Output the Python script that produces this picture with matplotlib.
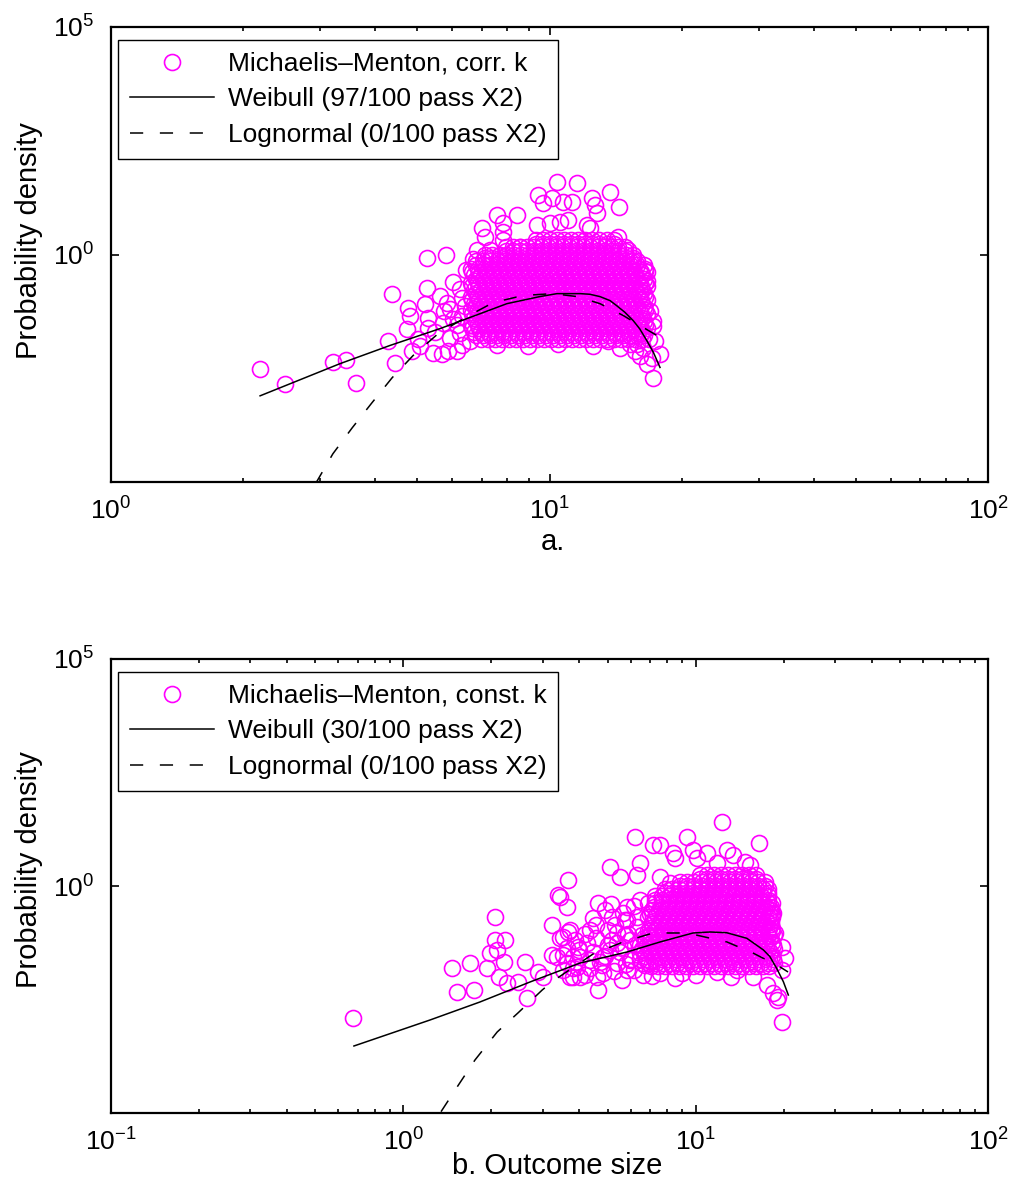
import numpy as np
import matplotlib
matplotlib.use('Agg')
import matplotlib.pyplot as plt
from matplotlib.ticker import FixedLocator, NullLocator, FixedFormatter

plt.rcParams['font.family'] = ['Liberation Sans', 'DejaVu Sans']
plt.rcParams['mathtext.fontset'] = 'custom'
plt.rcParams['mathtext.rm'] = 'Liberation Sans'
plt.rcParams['mathtext.it'] = 'Liberation Sans:italic'
plt.rcParams['mathtext.default'] = 'regular'
plt.rcParams['lines.scale_dashes'] = False

# ---------------- DATA (log10 of values) ----------------
labels_a = ['Michaelis\u2013Menton, corr. k', 'Weibull (97/100 pass X2)', 'Lognormal (0/100 pass X2)']
labels_b = ['Michaelis\u2013Menton, const. k', 'Weibull (30/100 pass X2)', 'Lognormal (0/100 pass X2)']

# panel a: scattered (outlying) points
a_out_lx = [0.340, 0.397, 0.506, 0.536, 0.559, 0.641, 0.632, 0.677, 0.682, 0.675,
            0.648, 0.686, 0.705, 0.721, 0.716, 0.723, 0.723, 0.750, 0.757, 0.734,
            0.755, 0.769, 0.789, 0.773, 0.796, 0.800, 0.796, 0.721, 0.764, 0.846,
            0.853, 0.880, 0.926, 0.894, 0.894, 0.894, 0.826, 0.835, 0.864, 0.899,
            0.933, 0.974, 0.985, 1.006, 1.017, 1.063, 1.031, 1.051, 1.097, 1.104,
            1.108, 1.138, 1.158, 0.971, 1.001, 1.024, 1.042, 1.086, 1.092, 1.156,
            1.179, 1.190, 1.218, 1.222, 1.229, 1.236, 1.236, 1.252, 1.222, 1.236,
            1.213, 1.200, 1.184, 1.133, 0.819, 1.206, 1.241, 1.234, 1.206, 1.195,
            0.766, 0.780, 0.773, 0.807,
            0.790, 0.800, 0.780, 0.810, 0.760, 0.740, 0.700, 0.800,
            0.880, 0.950, 1.020, 1.100, 1.160]
a_out_ly = [-2.511, -2.841, -2.357, -2.313, -2.819, -0.859, -1.894, -1.167, -1.344, -1.630,
            -2.379, -2.115, -2.004, -0.727, -1.079, -1.388, -1.608, -0.903, -1.498, -2.159,
            -2.181, -2.115, -2.115, -1.189, -0.749, -1.344, -1.718, -0.066, 0.000, 0.573,
            0.374, 0.859, 0.859, 0.683, 0.485, 0.308, -0.088, 0.088, 0.088, -0.022,
            0.154, 1.300, 1.123, 1.233, 1.586, 1.564, 1.145, 1.145, 1.233, 1.079,
            0.903, 1.366, 1.035, 0.639, 0.683, 0.705, 0.749, 0.639, 0.573, 0.374,
            0.088, -0.132, -0.352, -0.573, -1.233, -1.454, -1.564, -2.181, -2.401, -2.709,
            -2.048, -1.960, -1.960, -1.894, -1.894, -0.793, -1.894, -2.269, -2.225, -2.115,
            -1.057, -1.410, -1.828, -1.123,
            -1.550, -0.950, -0.600, -0.350, -1.250, -1.700, -1.850, -1.980,
            -1.980, -2.000, -1.970, -2.000, -2.050]

# panel a: dense core, one list of x per row
a_row1 = [0.970, 0.986, 1.002, 1.018, 1.034, 1.050, 1.066, 1.082, 1.098, 1.114, 1.130, 1.146]
a_row2 = [0.900, 0.916, 0.932, 0.948, 0.964, 0.980, 0.996, 1.012, 1.028, 1.044, 1.060, 1.076,
          1.092, 1.108, 1.124, 1.140, 1.156, 1.172]
a_row3 = [0.854, 0.870, 0.886, 0.902, 0.918, 0.934, 0.950, 0.966, 0.982, 0.998, 1.014, 1.030,
          1.046, 1.062, 1.078, 1.094, 1.110, 1.126, 1.142, 1.158, 1.174, 1.190]
a_row4 = [0.832, 0.848, 0.864, 0.880, 0.896, 0.912, 0.928, 0.944, 0.960, 0.976, 0.992, 1.008,
          1.024, 1.040, 1.056, 1.072, 1.088, 1.104, 1.120, 1.136, 1.152, 1.168, 1.184, 1.200]
a_rowA = [0.820, 0.836, 0.852, 0.868, 0.884, 0.900, 0.916, 0.932, 0.948, 0.964, 0.980, 0.996,
          1.012, 1.028, 1.044, 1.060, 1.076, 1.092, 1.108, 1.124, 1.140, 1.156, 1.172, 1.188,
          1.204, 1.218]
a_rowB = [0.828, 0.844, 0.860, 0.876, 0.892, 0.908, 0.924, 0.940, 0.956, 0.972, 0.988, 1.004,
          1.020, 1.036, 1.052, 1.068, 1.084, 1.100, 1.116, 1.132, 1.148, 1.164, 1.180, 1.196,
          1.212]
a_rowC = [0.824, 0.840, 0.856, 0.872, 0.888, 0.904, 0.920, 0.936, 0.952, 0.968, 0.984, 1.000,
          1.016, 1.032, 1.048, 1.064, 1.080, 1.096, 1.112, 1.128, 1.144, 1.160, 1.176, 1.192,
          1.208, 1.222]
a_rowD = [0.832, 0.848, 0.864, 0.880, 0.896, 0.912, 0.928, 0.944, 0.960, 0.976, 0.992, 1.008,
          1.024, 1.040, 1.056, 1.072, 1.088, 1.104, 1.120, 1.136, 1.152, 1.168, 1.184, 1.200,
          1.216]
a_rowZ = [0.844, 0.860, 0.876, 0.892, 0.908, 0.924, 0.940, 0.956, 0.972, 0.988, 1.004, 1.020,
          1.036, 1.052, 1.068, 1.084, 1.100, 1.116, 1.132, 1.148, 1.164, 1.180, 1.196, 1.212,
          1.228]
a_core_rows = [a_row1, a_row1, a_row2, a_row2, a_row3, a_row3, a_row4, a_rowD,
               a_rowA, a_rowC, a_rowB, a_rowD, a_rowA, a_rowC, a_rowB, a_rowD,
               a_rowA, a_rowC, a_rowB, a_rowD, a_rowA, a_rowC, a_rowB, a_rowD,
               a_rowA, a_rowC, a_rowB, a_rowD, a_rowZ]
a_core_ly = [0.31, 0.235, 0.16, 0.08, 0.00, -0.075, -0.15, -0.23,
             -0.31, -0.385, -0.46, -0.54, -0.62, -0.695, -0.77, -0.85,
             -0.93, -1.005, -1.08, -1.155, -1.23, -1.31, -1.39, -1.465,
             -1.54, -1.62, -1.70, -1.775, -1.85]

# panel a: fitted curves
a_weib_lx = [0.340, 0.397, 0.522, 0.636, 0.750, 0.842, 0.903, 0.978, 1.017, 1.070,
             1.092, 1.115, 1.138, 1.153, 1.172, 1.191, 1.206, 1.222, 1.237, 1.252]
a_weib_ly = [-3.106, -2.885, -2.400, -2.000, -1.630, -1.300, -1.080, -0.925, -0.860, -0.860,
             -0.874, -0.925, -1.013, -1.123, -1.271, -1.454, -1.637, -1.894, -2.152, -2.482]
a_logn_lx = [0.432, 0.4675, 0.506, 0.550, 0.595, 0.641, 0.689, 0.746, 0.807, 0.871, 0.940,
             1.008, 1.063, 1.115, 1.168, 1.206, 1.245]
a_logn_ly = [-5.60, -5.02, -4.38, -3.81, -3.26, -2.71, -2.22, -1.74, -1.39, -1.06, -0.90,
             -0.86, -0.925, -1.08, -1.34, -1.56, -1.78]

# panel b: scattered (outlying) points
b_out_lx = [1.090, 1.217, 0.793, 0.854, 0.878, 0.970, 0.922, 0.929, 0.991, 1.005,
            1.039, 1.073, 1.107, 1.128, 1.169, 1.186, 0.707, 0.741, 0.810, 0.800,
            0.878, 0.912, 0.563, 0.560, 0.666, 0.649, 0.714, 0.765, 0.810, 0.570,
            0.700, 0.758, 1.265, 1.272, 1.296, 1.306, 1.296, 1.265, 1.282, 1.278,
            1.296, 0.666, 0.748, 0.820, 0.878, 0.953, 1.073, 1.141, 1.196, 1.244,
            -0.172, 0.167, 0.184, 0.229, 0.243, 0.312, 0.312, 0.348, 0.295, 0.319,
            0.346, 0.286, 0.327, 0.355, 0.392, 0.416, 0.423, 0.461, 0.478, 0.509,
            0.529, 0.563, 0.536, 0.509, 0.526, 0.546, 0.580, 0.546, 0.580, 0.598,
            0.536, 0.546, 0.587, 0.628, 0.560, 0.649, 0.604, 0.560, 0.594, 0.639,
            0.683, 0.707, 0.751, 0.775, 0.731, 0.775, 0.810, 0.683, 0.765, 0.663,
            0.604, 0.570, 0.731, 0.800, 0.800, 0.765,
            0.690, 0.724, 0.758, 0.793, 0.827, 0.714, 0.673, 0.639,
            0.620, 0.660, 0.700, 0.740, 0.780, 0.600, 0.640, 0.680, 0.720, 0.760,
            0.790, 0.580, 0.620, 0.690, 0.730, 0.770, 0.750, 0.790, 0.710, 0.660,
            0.850, 0.930, 1.000, 1.120]
b_out_ly = [1.413, 0.949, 1.082, 0.905, 0.905, 1.082, 0.728, 0.618, 0.795, 0.618,
            0.728, 0.508, 0.795, 0.684, 0.530, 0.464, 0.419, 0.199, 0.508, 0.243,
            0.199, 0.066, 0.132, -0.464, -0.375, -0.706, -0.684, -0.464, -0.309, -0.971,
            -0.971, -0.751, -0.596, -1.038, -1.347, -1.589, -1.854, -2.362, -2.450, -2.517,
            -3.002, -2.296, -2.075, -1.965, -1.921, -1.921, -1.898, -1.854, -2.009, -2.185,
            -2.914, -1.810, -2.340, -1.700, -2.296, -0.684, -1.192, -1.192, -1.479, -1.413,
            -1.678, -1.810, -2.009, -2.141, -2.119, -1.678, -2.472, -1.898, -2.009, -0.861,
            -0.199, -1.015, -1.148, -1.523, -1.567, -1.523, -1.567, -1.854, -2.009, -1.347,
            -0.243, -1.126, -1.192, -1.258, -1.369, -1.457, -1.567, -1.700, -1.788, -1.810,
            -1.567, -1.413, -1.347, -1.192, -1.700, -1.634, -1.479, -1.921, -1.854, -2.009,
            -2.009, -2.009, -1.038, -0.905, -0.684, -0.751,
            -0.530, -0.861, -1.082, -1.302, -1.744, -1.192, -1.678, -0.971,
            -1.050, -1.150, -1.300, -1.450, -1.600, -1.400, -1.620, -1.750, -1.880, -1.720,
            -1.850, -1.800, -1.950, -1.550, -1.250, -1.050, -0.600, -0.450, -0.400, -0.850,
            -1.980, -2.020, -1.970, -2.000]

# panel b: dense core
b_row1 = [1.016, 1.040, 1.064, 1.088, 1.112, 1.136, 1.160, 1.184, 1.208]
b_row2 = [0.948, 0.972, 0.996, 1.020, 1.044, 1.068, 1.092, 1.116, 1.140, 1.164, 1.188, 1.212, 1.236]
b_row3 = [0.896, 0.920, 0.944, 0.968, 0.992, 1.016, 1.040, 1.064, 1.088, 1.112, 1.136, 1.160,
          1.184, 1.208, 1.232, 1.246]
b_row4 = [0.862, 0.886, 0.910, 0.934, 0.958, 0.982, 1.006, 1.030, 1.054, 1.078, 1.102, 1.126,
          1.150, 1.174, 1.198, 1.222, 1.248]
b_rowC = [0.838, 0.862, 0.886, 0.910, 0.934, 0.958, 0.982, 1.006, 1.030, 1.054, 1.078, 1.102,
          1.126, 1.150, 1.174, 1.198, 1.222, 1.246, 1.260]
b_rowD = [0.850, 0.874, 0.898, 0.922, 0.946, 0.970, 0.994, 1.018, 1.042, 1.066, 1.090, 1.114,
          1.138, 1.162, 1.186, 1.210, 1.234, 1.256]
b_rowE = [0.810, 0.834, 0.858, 0.882, 0.906, 0.930, 0.954, 0.978, 1.002, 1.026, 1.050, 1.074,
          1.098, 1.122, 1.146, 1.170, 1.194, 1.218, 1.242, 1.266]
b_rowF = [0.822, 0.846, 0.870, 0.894, 0.918, 0.942, 0.966, 0.990, 1.014, 1.038, 1.062, 1.086,
          1.110, 1.134, 1.158, 1.182, 1.206, 1.230, 1.254]
b_rowC2 = [0.844, 0.868, 0.892, 0.916, 0.940, 0.964, 0.988, 1.012, 1.036, 1.060, 1.084, 1.108,
           1.132, 1.156, 1.180, 1.204, 1.228, 1.252, 1.262]
b_rowD2 = [0.856, 0.880, 0.904, 0.928, 0.952, 0.976, 1.000, 1.024, 1.048, 1.072, 1.096, 1.120,
           1.144, 1.168, 1.192, 1.216, 1.240, 1.258]
b_rowE2 = [0.816, 0.840, 0.864, 0.888, 0.912, 0.936, 0.960, 0.984, 1.008, 1.032, 1.056, 1.080,
           1.104, 1.128, 1.152, 1.176, 1.200, 1.224, 1.248, 1.268]
b_rowF2 = [0.828, 0.852, 0.876, 0.900, 0.924, 0.948, 0.972, 0.996, 1.020, 1.044, 1.068, 1.092,
           1.116, 1.140, 1.164, 1.188, 1.212, 1.236, 1.260]
b_rowZ = [0.846, 0.870, 0.894, 0.918, 0.942, 0.966, 0.990, 1.014, 1.038, 1.062, 1.086, 1.110,
          1.134, 1.158, 1.182, 1.206, 1.230, 1.252]
b_core_rows = [b_row1, b_row1, b_row2, b_row2, b_row3, b_row3, b_row4, b_row4,
               b_rowC, b_rowD2, b_rowD, b_rowC2, b_rowC, b_rowD2, b_rowD, b_rowC2,
               b_rowC, b_rowE2, b_rowF, b_rowF2, b_rowE, b_rowE2, b_rowF, b_rowF2,
               b_rowE, b_rowE2, b_rowZ]
b_core_ly = [0.24, 0.165, 0.09, 0.01, -0.07, -0.145, -0.22, -0.30,
             -0.38, -0.455, -0.53, -0.61, -0.68, -0.76, -0.84, -0.915,
             -0.99, -1.07, -1.15, -1.225, -1.30, -1.38, -1.46, -1.535,
             -1.61, -1.69, -1.77]

# panel b: fitted curves
b_weib_lx = [-0.169, 0.091, 0.262, 0.433, 0.605, 0.765, 0.878, 0.991, 1.049, 1.106,
             1.175, 1.232, 1.254, 1.277, 1.300, 1.317]
b_weib_ly = [-3.524, -2.952, -2.555, -2.115, -1.696, -1.454, -1.233, -1.035, -1.013, -1.029,
             -1.152, -1.410, -1.557, -1.813, -2.108, -2.401]
b_logn_lx = [0.100, 0.126, 0.184, 0.245, 0.321, 0.392, 0.475, 0.512, 0.649, 0.752, 0.854,
             0.971, 1.107, 1.196, 1.289, 1.316]
b_logn_ly = [-5.60, -5.00, -4.427, -3.833, -3.216, -2.797, -2.291, -2.093, -1.498, -1.233,
             -1.035, -1.035, -1.233, -1.476, -1.784, -1.894]

a_xticks = [1, 10, 100]
a_xticklabels = ['$10^{0}$', '$10^{1}$', '$10^{2}$']
b_xticks = [0.1, 1, 10, 100]
b_xticklabels = ['$10^{-1}$', '$10^{0}$', '$10^{1}$', '$10^{2}$']
yticks = [1, 1e5]
yticklabels = ['$10^{0}$', '$10^{5}$']

MAG = '#ff00ff'
FS_TICK = 19
FS_LEG = 19
FS_LAB = 21


def flatten(rows, rows_y):
    xs, ys = [], []
    for r, y in zip(rows, rows_y):
        xs.extend(r)
        ys.extend([y] * len(r))
    return xs, ys


def panel(ax, out_lx, out_ly, rows, rows_y, wx, wy, lx, ly, labels, xlim, xt, xtl):
    cx, cy = flatten(rows, rows_y)
    px = 10 ** np.array(list(out_lx) + cx)
    py = 10 ** np.array(list(out_ly) + cy)
    h1, = ax.plot(px, py, linestyle='none', marker='o', ms=11.5, mfc='none',
                  mec=MAG, mew=1.2, label=labels[0])
    h2, = ax.plot(10 ** np.array(wx), 10 ** np.array(wy), color='k', lw=1.1,
                  label=labels[1])
    h3, = ax.plot(10 ** np.array(lx), 10 ** np.array(ly), color='k', lw=1.1,
                  dashes=(9.5, 12), label=labels[2])
    ax.set_xscale('log')
    ax.set_yscale('log')
    ax.set_xlim(*xlim)
    ax.set_ylim(1e-5, 1e5)
    ax.xaxis.set_major_locator(FixedLocator(xt))
    ax.xaxis.set_major_formatter(FixedFormatter(xtl))
    minors = [m * 10.0 ** e for e in range(-2, 3) for m in range(2, 10)]
    minors = [m for m in minors if xlim[0] < m < xlim[1]]
    ax.xaxis.set_minor_locator(FixedLocator(minors))
    ax.yaxis.set_major_locator(FixedLocator(yticks))
    ax.yaxis.set_major_formatter(FixedFormatter(yticklabels))
    ax.yaxis.set_minor_locator(NullLocator())
    ax.tick_params(which='both', direction='in', top=True, right=True, width=1.2,
                   labelsize=FS_TICK)
    ax.tick_params(which='major', length=6)
    ax.tick_params(which='minor', length=3)
    ax.tick_params(axis='x', which='major', pad=11)
    ax.tick_params(axis='y', which='major', pad=12)
    for s in ax.spines.values():
        s.set_linewidth(1.6)
    leg = ax.legend(handles=[h1, h2, h3], loc='upper left',
                    bbox_to_anchor=(0.008, 0.9714), borderaxespad=0,
                    fontsize=FS_LEG, frameon=True, fancybox=False, framealpha=1,
                    edgecolor='k', numpoints=1, handlelength=3.2,
                    handletextpad=0.5, labelspacing=0.44, borderpad=0.45)
    leg.get_frame().set_linewidth(1.0)


fig = plt.figure(figsize=(10.26, 11.91), dpi=100)
W, H = 1026.0, 1191.0
ax1 = fig.add_axes([111 / W, 1 - 482 / H, 877 / W, 455 / H])
ax2 = fig.add_axes([111 / W, 1 - 1113 / H, 877 / W, 454 / H])

panel(ax1, a_out_lx, a_out_ly, a_core_rows, a_core_ly, a_weib_lx, a_weib_ly,
      a_logn_lx, a_logn_ly, labels_a, (1, 100), a_xticks, a_xticklabels)
panel(ax2, b_out_lx, b_out_ly, b_core_rows, b_core_ly, b_weib_lx, b_weib_ly,
      b_logn_lx, b_logn_ly, labels_b, (0.1, 100), b_xticks, b_xticklabels)

fig.text(29 / W, 1 - 241 / H, 'Probability density', rotation=90, ha='center',
         va='center', fontsize=FS_LAB)
fig.text(29 / W, 1 - 870 / H, 'Probability density', rotation=90, ha='center',
         va='center', fontsize=FS_LAB)
fig.text(553 / W, 1 - 542 / H, 'a.', ha='center', va='center', fontsize=FS_LAB)
fig.text(557 / W, 1 - 1166 / H, 'b. Outcome size', ha='center', va='center',
         fontsize=FS_LAB)

fig.savefig('out.png', dpi=100, facecolor='white')
